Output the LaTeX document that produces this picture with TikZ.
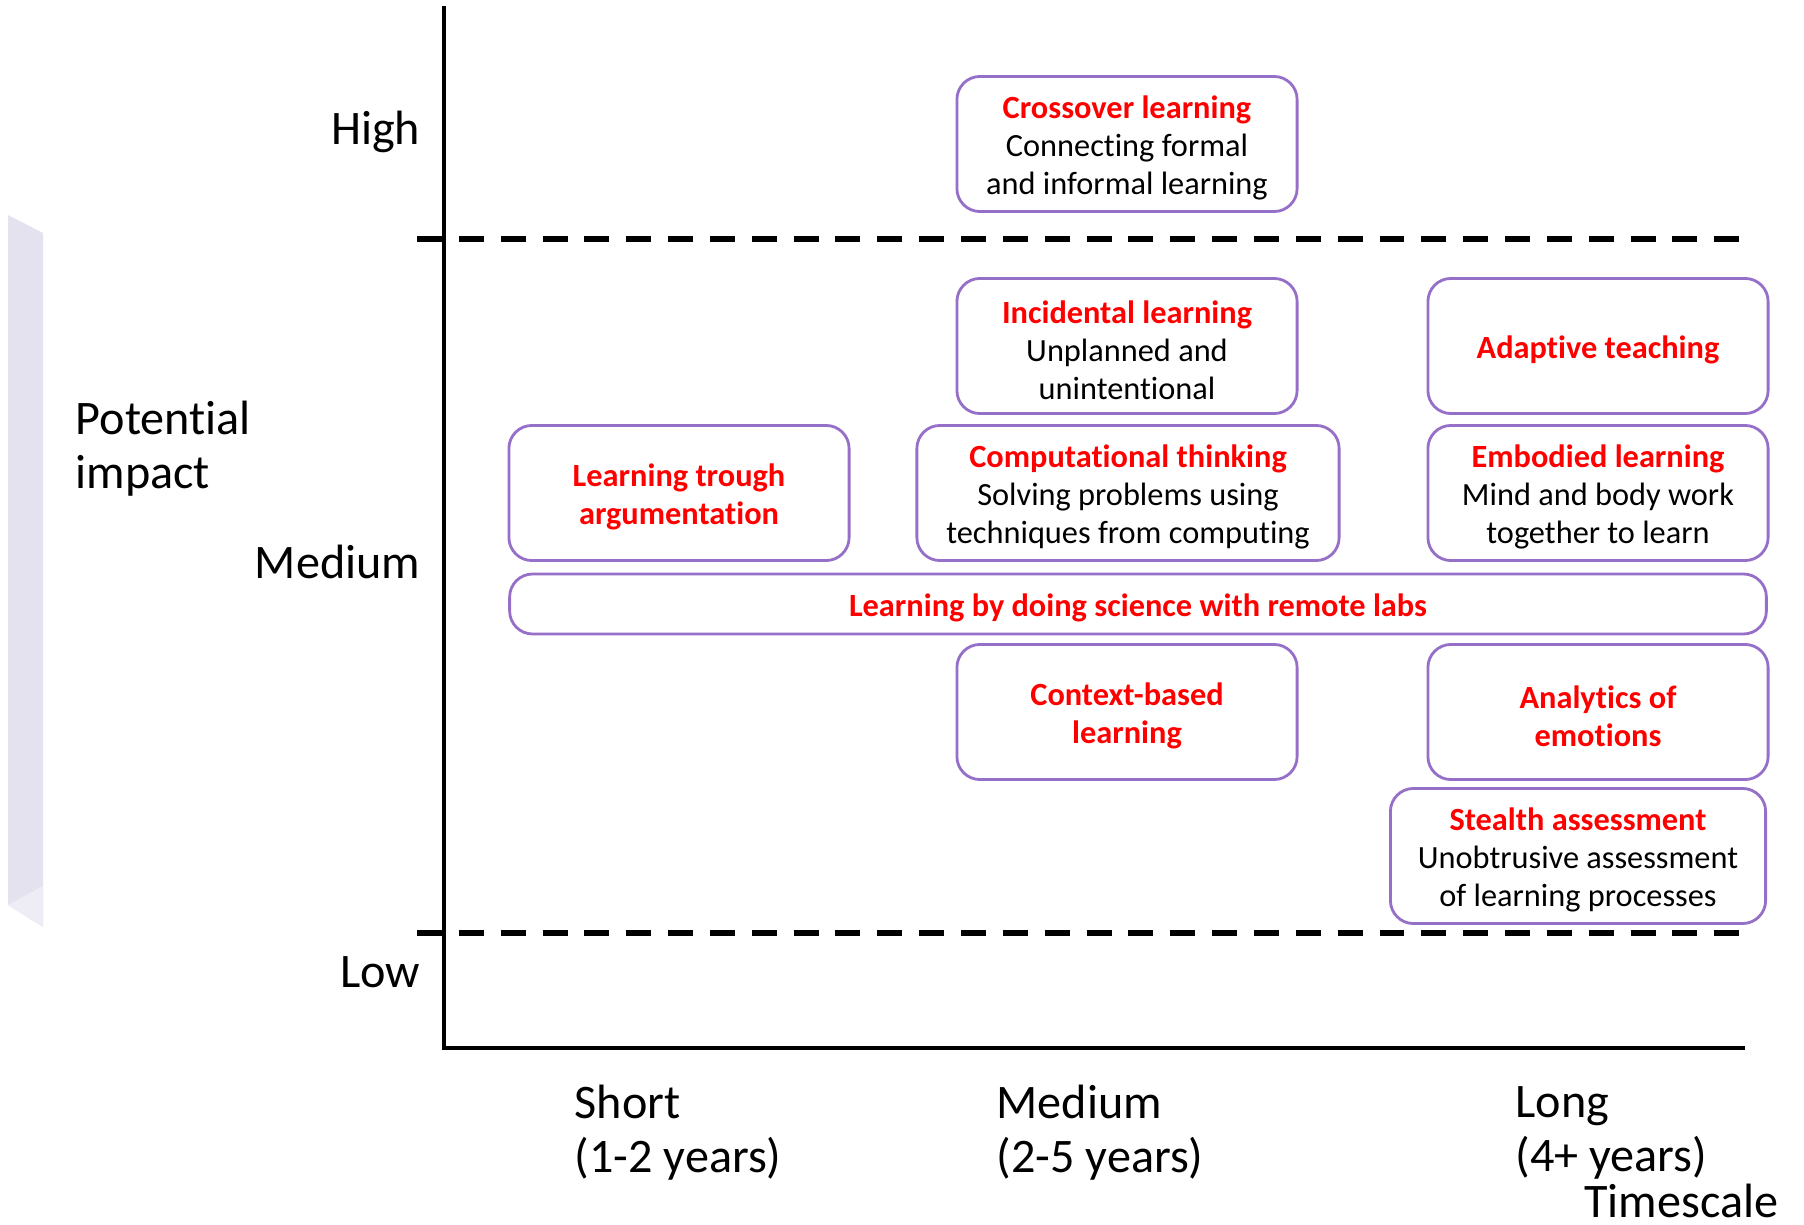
\documentclass[tikz,border=0pt]{standalone}
\usepackage{fontspec}
\setmainfont{Carlito}[Ligatures=NoCommon]
\usepackage{tikz}
\usetikzlibrary{positioning}

\definecolor{boxline}{RGB}{150,112,200}
\definecolor{panel}{RGB}{228,226,239}
\definecolor{panellight}{RGB}{238,237,246}
\definecolor{titlered}{RGB}{255,0,0}

\newcommand{\topictitle}[1]{\rule{0pt}{8.8pt}\textcolor{titlered}{\bfseries #1}}

\begin{document}
\begin{tikzpicture}[
    x=0.01cm, y=-0.01cm,
    topic/.style={draw=boxline, line width=0.8pt, rounded corners=0.23cm, fill=white, align=center, inner sep=2pt, minimum width=3.4cm, minimum height=1.35cm, font=\fontsize{9.2}{10.8}\selectfont},
    axislabel/.style={font=\fontsize{13.7}{15.4}\selectfont, align=left, anchor=west, inner sep=0pt},
    axisline/.style={line width=1.4pt},
    border/.style={line width=1.6pt, dash pattern=on 7.1pt off 4.8pt}
]
\useasboundingbox (0,0) rectangle (1804,1225);

% Side panel
\fill[panel] (8,215) -- (43,233) -- (43,927) -- (8,905) -- cycle;
\fill[panellight] (8,905) -- (43,886) -- (43,927) -- cycle;

% Axes
\coordinate (top) at (444,6);
\coordinate (origin) at (444,1048);
\coordinate (right) at (1745,1048);
\draw[axisline] (top) -- (origin) -- (right);

% Levels
\coordinate (highL) at (417,239);
\coordinate (highR) at (1755,239);
\coordinate (lowL) at (417,933);
\coordinate (lowR) at (1755,933);
\draw[border] (highL) -- (highR);
\draw[border] (lowL) -- (lowR);

\node[axislabel, anchor=east] (high) at (421,132) {High};
\node[axislabel, anchor=east] (medium) at (421,562) {Medium};
\node[axislabel, anchor=east] (low) at (421,972) {Low};
\node[axislabel] (impact) at (75,449) {Potential\\impact};

\node[axislabel] (short) at (574,1133) {Short\\(1-2 years)};
\node[axislabel] (mid) at (996,1133) {Medium\\(2-5 years)};
\node[axislabel] (long) at (1515,1133) {Long\\(4+ years)};
\node[axislabel, anchor=east] (timescale) at (1779,1201) {Timescale};

% Topics
\node[topic] (crossover) at (1127,144) {\topictitle{Crossover learning}\\Connecting formal\\and informal learning};
\node[topic] (incidental) at (1127,346) {\topictitle{Incidental learning}\\Unplanned and\\unintentional};
\node[topic] (adaptive) at (1598,346) {\topictitle{Adaptive teaching}};
\node[topic] (argument) at (679,493) {\topictitle{Learning trough}\\\topictitle{argumentation}};
\node[topic, minimum width=4.22cm] (computational) at (1128,493) {\topictitle{Computational thinking}\\Solving problems using\\techniques from computing};
\node[topic] (embodied) at (1598,493) {\topictitle{Embodied learning}\\Mind and body work\\together to learn};
\node[topic, minimum width=12.56cm, minimum height=0.6cm] (remotelabs) at (1138,604) {\topictitle{Learning by doing science with remote labs}};
\node[topic] (context) at (1127,712) {\topictitle{Context-based}\\\topictitle{learning}};
\node[topic] (analytics) at (1598,712) {\topictitle{Analytics of}\\\topictitle{emotions}};
\node[topic, minimum width=3.75cm] (stealth) at (1578,856) {\topictitle{Stealth assessment}\\Unobtrusive assessment\\of learning processes};

\end{tikzpicture}
\end{document}
